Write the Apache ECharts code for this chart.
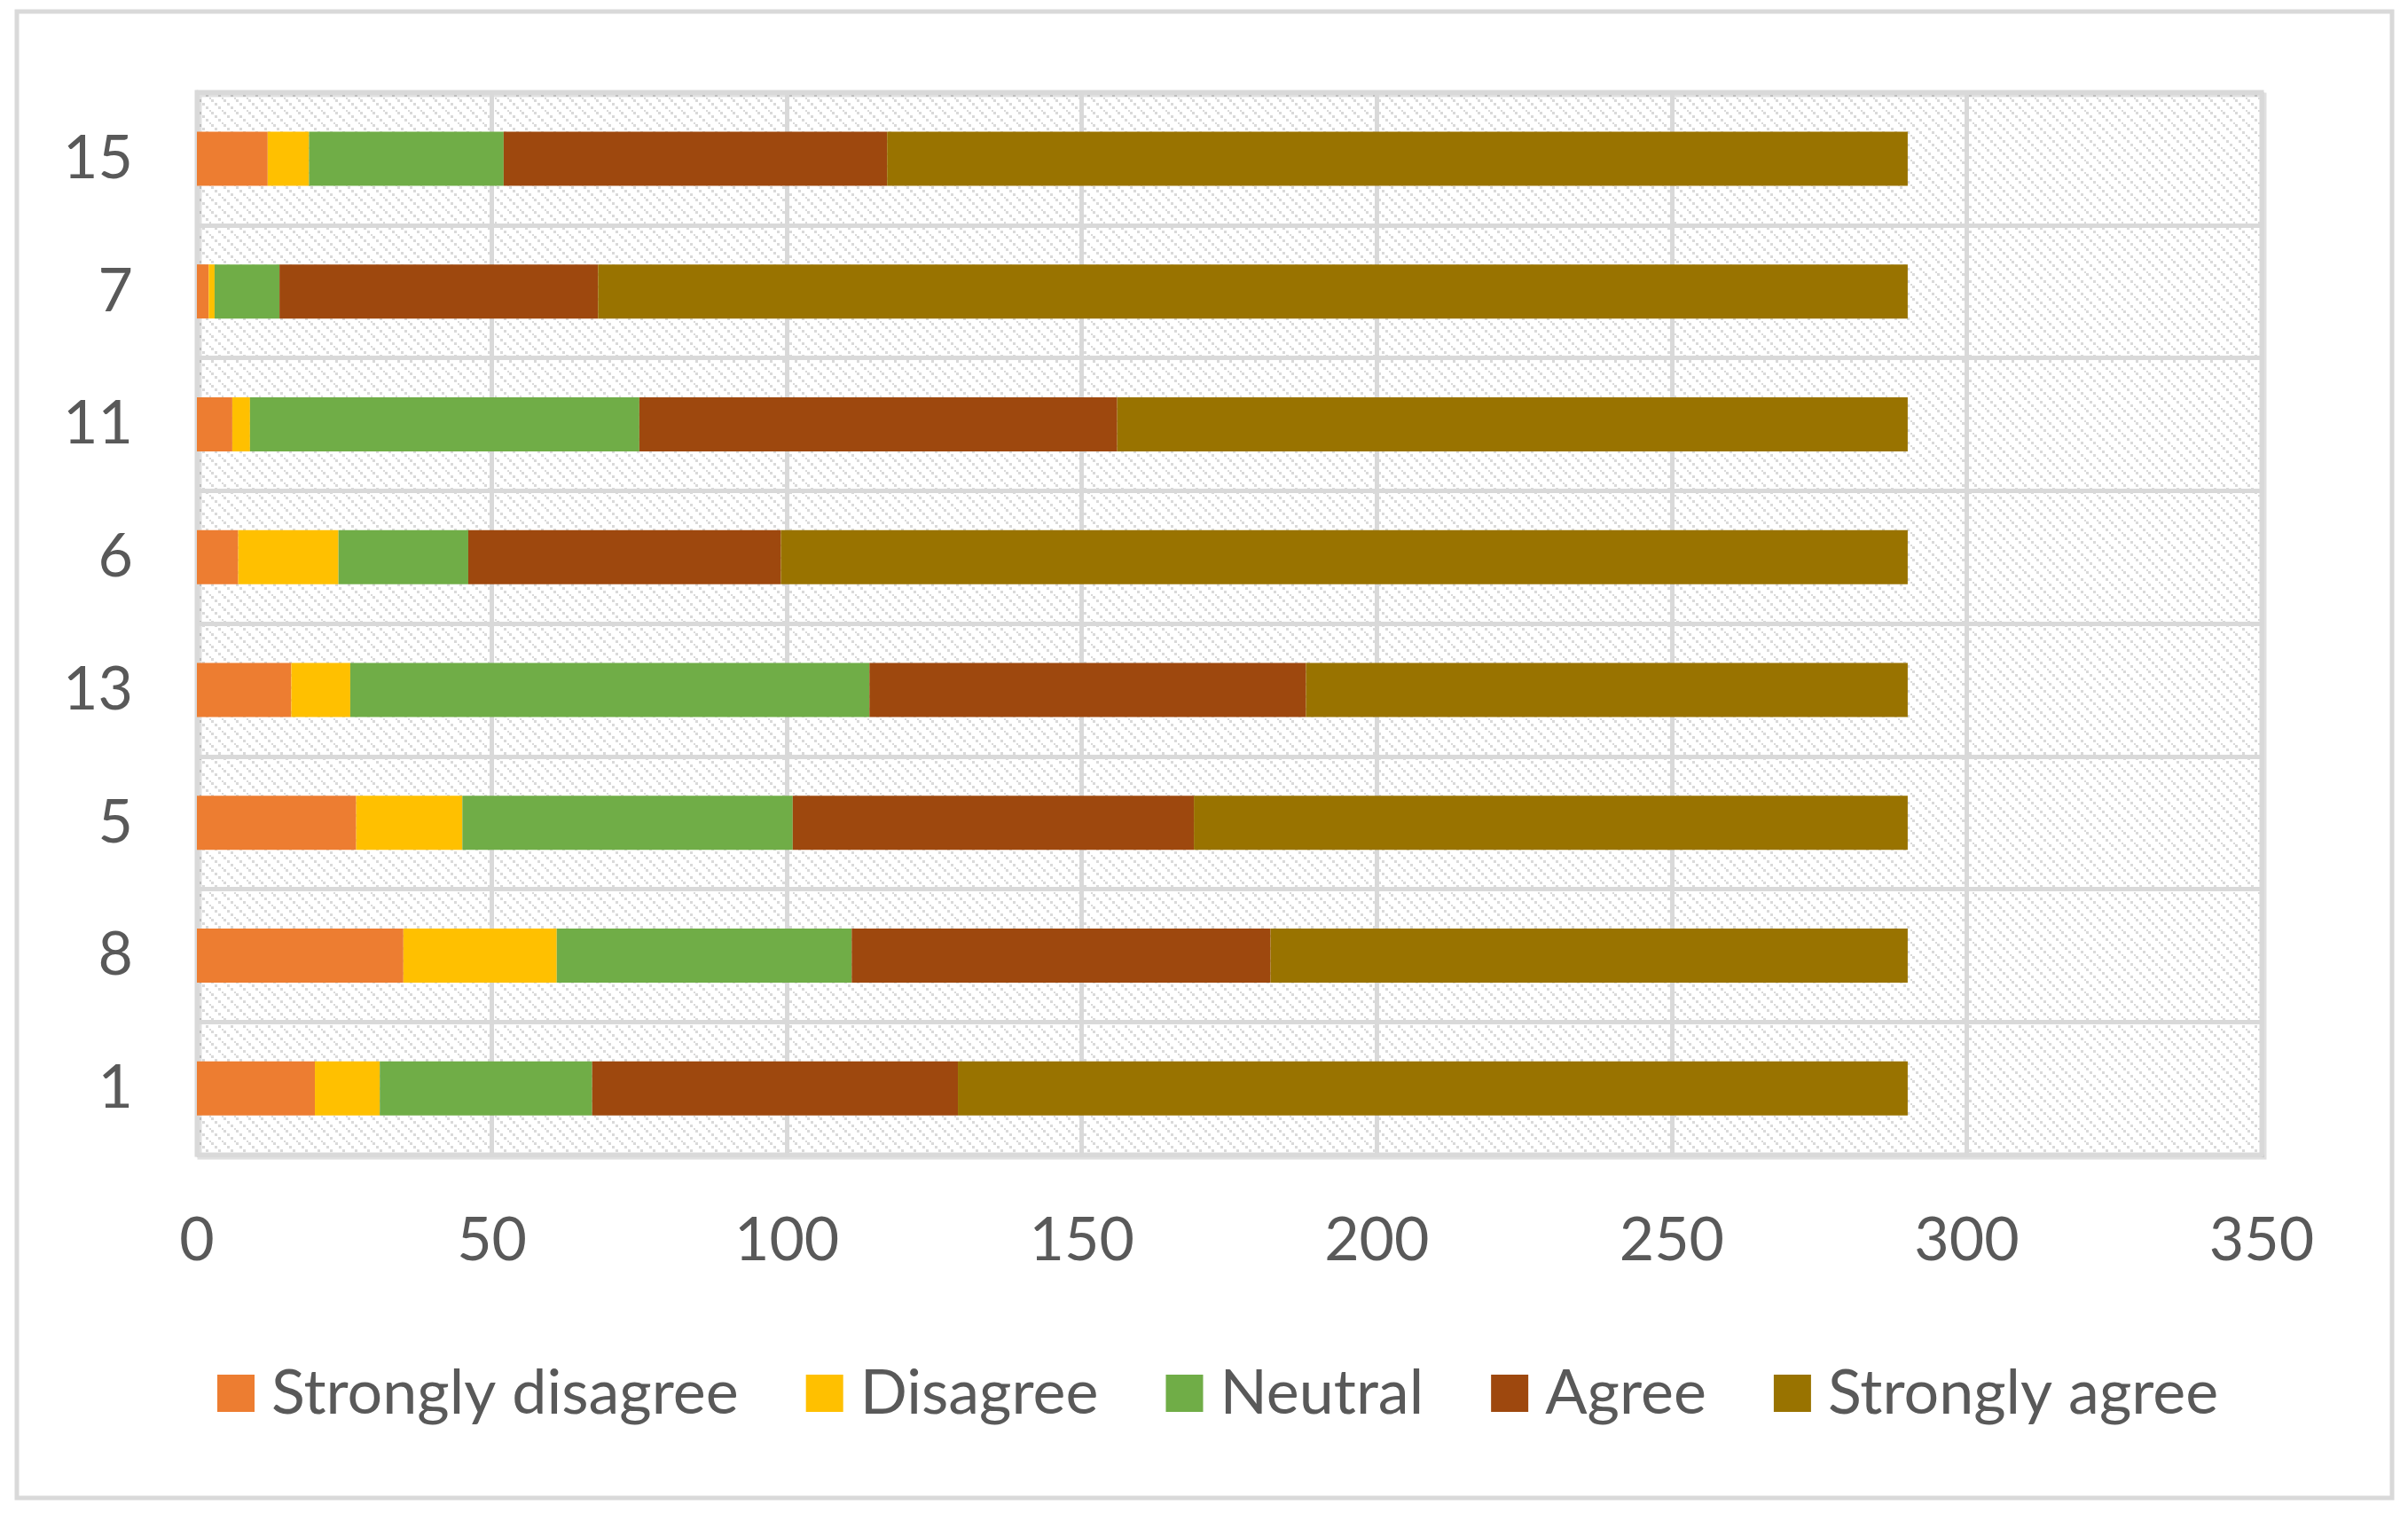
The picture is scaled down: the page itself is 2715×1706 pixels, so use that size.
<!DOCTYPE html>
<html>
<head>
<meta charset="utf-8">
<script src="https://cdn.jsdelivr.net/npm/echarts@6/dist/echarts.min.js"></script>
<style>
html,body{margin:0;padding:0;background:#fff;}
#chart{width:2715px;height:1706px;}
</style>
</head>
<body>
<div id="chart"></div>
<script>
// Categories (bottom to top)
const categories = ['1', '8', '5', '13', '6', '11', '7', '15'];
const seriesNames = ['Strongly disagree', 'Disagree', 'Neutral', 'Agree', 'Strongly agree'];
const stronglyDisagree = [20, 35, 27, 16, 7, 6, 2, 12];
const disagree         = [11, 26, 18, 10, 17, 3, 1, 7];
const neutral          = [36, 50, 56, 88, 22, 66, 11, 33];
const agree            = [62, 71, 68, 74, 53, 81, 54, 65];
const stronglyAgree    = [161, 108, 121, 102, 191, 134, 222, 173];
const xTicks = [0, 50, 100, 150, 200, 250, 300, 350];

const colors = ['#ED7D31', '#FFC000', '#70AD47', '#9E480E', '#997300'];
const values = [stronglyDisagree, disagree, neutral, agree, stronglyAgree];

// hatch pattern tile (dashed downward diagonals)
const T = 14;
const tile = document.createElement('canvas');
tile.width = T; tile.height = T;
const ctx = tile.getContext('2d');
ctx.fillStyle = '#ffffff';
ctx.fillRect(0, 0, T, T);
ctx.fillStyle = '#D9D9D9';
for (let k = 0; k < T; k += 4) {
  ctx.fillRect(k, k, 3, 3);
}

const chart = echarts.init(document.getElementById('chart'), null, {renderer: 'canvas'});
const fontFamily = 'Lato';

const option = {
  animation: false,
  backgroundColor: '#ffffff',
  textStyle: {fontFamily: fontFamily},
  graphic: [{
    type: 'rect',
    shape: {x: 19, y: 13, width: 2678, height: 1676},
    style: {fill: 'none', stroke: '#D9D9D9', lineWidth: 5},
    silent: true,
    z: 0
  }],
  grid: {
    left: 222, right: 165, top: 104, bottom: 404,
    show: true,
    backgroundColor: {image: tile, repeat: 'repeat'},
    borderColor: '#D9D9D9',
    borderWidth: 5,
    shadowColor: 'rgba(0,0,0,0.12)',
    shadowOffsetX: 3,
    shadowOffsetY: 3,
    shadowBlur: 0
  },
  legend: {
    left: 240,
    top: 1531,
    itemWidth: 42,
    itemHeight: 42,
    itemGap: 76,
    icon: 'rect',
    data: seriesNames,
    textStyle: {
      fontFamily: fontFamily,
      fontSize: 70,
      color: '#595959',
      lineHeight: 42,
      padding: [0, 0, 0, 14]
    }
  },
  xAxis: {
    type: 'value',
    min: 0,
    max: 350,
    interval: 50,
    axisLine: {show: false},
    axisTick: {show: false},
    axisLabel: {
      fontFamily: fontFamily,
      fontSize: 68,
      color: '#595959',
      margin: 62,
      lineHeight: 70,
      formatter: function (v) { return xTicks.indexOf(v) >= 0 ? String(v) : ''; }
    },
    splitLine: {show: true, lineStyle: {color: '#D9D9D9', width: 5}}
  },
  yAxis: {
    type: 'category',
    data: categories,
    axisLine: {show: true, lineStyle: {color: '#D9D9D9', width: 5}},
    axisTick: {show: false},
    axisLabel: {
      fontFamily: fontFamily,
      fontSize: 68,
      color: '#595959',
      margin: 72
    },
    splitLine: {show: true, interval: 0, lineStyle: {color: '#D9D9D9', width: 5}}
  },
  series: seriesNames.map(function (name, i) {
    return {
      name: name,
      type: 'bar',
      stack: 'total',
      barWidth: 61,
      itemStyle: {color: colors[i]},
      data: values[i]
    };
  })
};
chart.setOption(option);
</script>
</body>
</html>
